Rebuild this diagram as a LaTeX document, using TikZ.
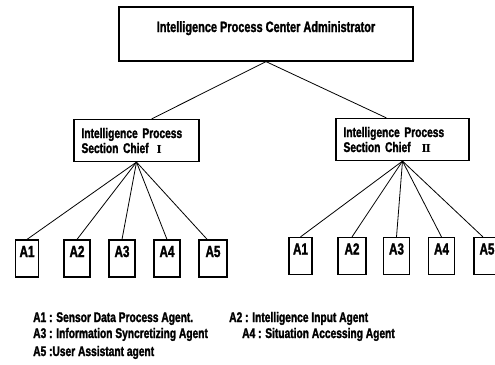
\documentclass[tikz,border=0pt]{standalone}
\usepackage{fontspec}
\usetikzlibrary{calc}
\newfontfamily\cfont[FakeStretch=0.73, FakeBold=1.6]{Liberation Sans}
\newfontfamily\numfont{DejaVu Serif}
\begin{document}
\begin{tikzpicture}[x=1pt, y=-1pt,
  box/.style={draw, line width=1.2pt, inner sep=0pt},
  chief/.style={box, align=left, inner xsep=7.5pt, minimum height=42pt, font=\cfont\bfseries\fontsize{14}{14}\selectfont},
  agent/.style={box, minimum width=26pt, text height=17pt, text depth=20pt, font=\cfont\bfseries\fontsize{16}{16}\selectfont},
  legend/.style={anchor=base west, inner sep=0pt, font=\cfont\bfseries\fontsize{14}{14}\selectfont},
  link/.style={line width=0.8pt}]
\useasboundingbox (0,0) rectangle (495,364);
\node[box, minimum width=294pt, text height=25pt, text depth=29pt, font=\cfont\bfseries\fontsize{15}{15}\selectfont] (adm) at (266,34){Intelligence Process Center Administrator};
\node[chief, text width=110pt] (chf1) at (136.5,140.5){Intelligence Process\\[1pt]Section Chief\hspace{8pt}{\numfont\fontsize{11}{11}\selectfont Ⅰ}};
\node[chief, text width=118pt] (chf2) at (402.5,139.5){Intelligence Process\\[1pt]Section Chief\hspace{11pt}{\numfont\fontsize{11}{11}\selectfont Ⅱ}};
\draw[link](adm.south) -- ($(chf1.north west)!.62!(chf1.north east)$);
\draw[link](adm.south) -- ($(chf2.north west)!.38!(chf2.north east)$);
\node[agent, minimum width=23pt] (ag11) at (27,258.5){A1};
\node[agent] (ag12) at (77,258.5){A2};
\node[agent] (ag13) at (122,258.5){A3};
\node[agent] (ag14) at (167,258.5){A4};
\node[agent, minimum width=28pt] (ag15) at (213,258.5){A5};
\draw[link](chf1.south) -- (ag11.north);
\draw[link](chf1.south) -- (ag12.north);
\draw[link](chf1.south) -- (ag13.north);
\draw[link](chf1.south) -- (ag14.north);
\draw[link](chf1.south) -- ($(ag15.north west)!.3!(ag15.north east)$);
\node[agent, minimum width=23pt] (ag21) at (300.5,256){A1};
\node[agent, minimum width=28pt] (ag22) at (352,256){A2};
\node[agent] (ag23) at (396.5,256){A3};
\node[agent] (ag24) at (441.5,256){A4};
\node[agent] (ag25) at (487,256){A5};
\draw[link](chf2.south) -- (ag21.north);
\draw[link](chf2.south) -- (ag22.north);
\draw[link](chf2.south) -- (ag23.north);
\draw[link](chf2.south) -- (ag24.north);
\draw[link](chf2.south) -- ($(ag25.north west)!.35!(ag25.north east)$);
\node[legend] (lg1) at (33,322){A1 : Sensor Data Process Agent.};
\node[legend] (lg2) at (229,322){A2 : Intelligence Input Agent};
\node[legend] (lg3) at (33,338){A3 : Information Syncretizing Agent};
\node[legend] (lg4) at (242,338){A4 : Situation Accessing Agent};
\node[legend] (lg5) at (33,356){A5 :User Assistant agent};
\end{tikzpicture}
\end{document}
